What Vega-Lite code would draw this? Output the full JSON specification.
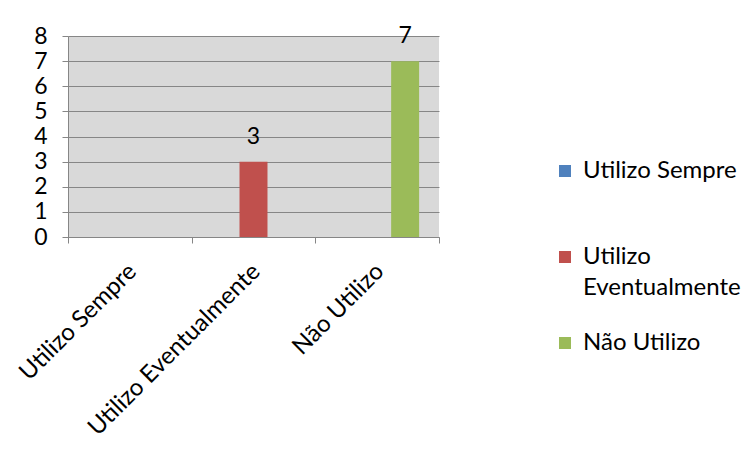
{
  "$schema": "https://vega.github.io/schema/vega-lite/v6.json",
  "autosize": "none",
  "width": 371,
  "height": 201,
  "padding": {"left": 68, "top": 36, "right": 312, "bottom": 222},
  "background": "white",
  "config": {
    "font": "Lato",
    "view": {"fill": "#D9D9D9", "stroke": null},
    "style": {"guide-label": {"lineHeight": 31}},
    "axis": {
      "labelFont": "Lato",
      "labelColor": "#000000",
      "labelFontSize": 23,
      "domainColor": "#868686",
      "tickColor": "#868686",
      "gridColor": "#868686",
      "title": null
    },
    "legend": {
      "labelFont": "Lato",
      "labelColor": "#000000",
      "labelFontSize": 24
    }
  },
  "data": {
    "values": [
      {"categoria": "Utilizo Sempre", "serie": "Utilizo Sempre", "valor": 0},
      {"categoria": "Utilizo Eventualmente", "serie": "Utilizo Eventualmente", "valor": 3},
      {"categoria": "Não Utilizo", "serie": "Não Utilizo", "valor": 7}
    ]
  },
  "encoding": {
    "x": {
      "field": "categoria",
      "type": "nominal",
      "sort": ["Utilizo Sempre", "Utilizo Eventualmente", "Não Utilizo"],
      "scale": {"paddingInner": 0, "paddingOuter": 0},
      "axis": {
        "labelAngle": -45,
        "labelAlign": "right",
        "labelBaseline": "top",
        "labelFontSize": 24,
        "labelLimit": 400,
        "labelOffset": -6,
        "tickBand": "extent",
        "tickSize": 6,
        "labelPadding": 16,
        "grid": false,
        "domainWidth": 1
      }
    },
    "xOffset": {
      "field": "serie",
      "type": "nominal",
      "sort": ["Utilizo Sempre", "Utilizo Eventualmente", "Não Utilizo"],
      "scale": {"paddingInner": 0, "paddingOuter": 0.71}
    },
    "y": {
      "field": "valor",
      "type": "quantitative",
      "scale": {"domain": [0, 8], "nice": false},
      "axis": {
        "values": [0, 1, 2, 3, 4, 5, 6, 7, 8],
        "tickSize": 6,
        "labelPadding": 15,
        "grid": true,
        "gridWidth": 1,
        "domain": true
      }
    }
  },
  "layer": [
    {
      "mark": {"type": "bar"},
      "encoding": {
        "color": {
          "field": "serie",
          "type": "nominal",
          "sort": ["Utilizo Sempre", "Utilizo Eventualmente", "Não Utilizo"],
          "scale": {
            "domain": ["Utilizo Sempre", "Utilizo Eventualmente", "Não Utilizo"],
            "range": ["#4F81BD", "#C0504D", "#9BBB59"]
          },
          "legend": {
            "title": null,
            "orient": "none",
            "legendX": 485,
            "legendY": 123,
            "symbolType": "square",
            "symbolSize": 144,
            "symbolStrokeWidth": 0,
            "labelOffset": 6,
            "rowPadding": 31,
            "labelExpr": "datum.label == 'Utilizo Eventualmente' ? ['Utilizo', 'Eventualmente'] : [datum.label, '']",
            "labelLimit": 300
          }
        }
      }
    },
    {
      "transform": [{"filter": "datum.valor > 0"}],
      "mark": {"type": "text", "baseline": "middle", "dy": -25, "fontSize": 23, "font": "Lato", "color": "#000000"},
      "encoding": {
        "text": {"field": "valor", "type": "quantitative"}
      }
    }
  ]
}
